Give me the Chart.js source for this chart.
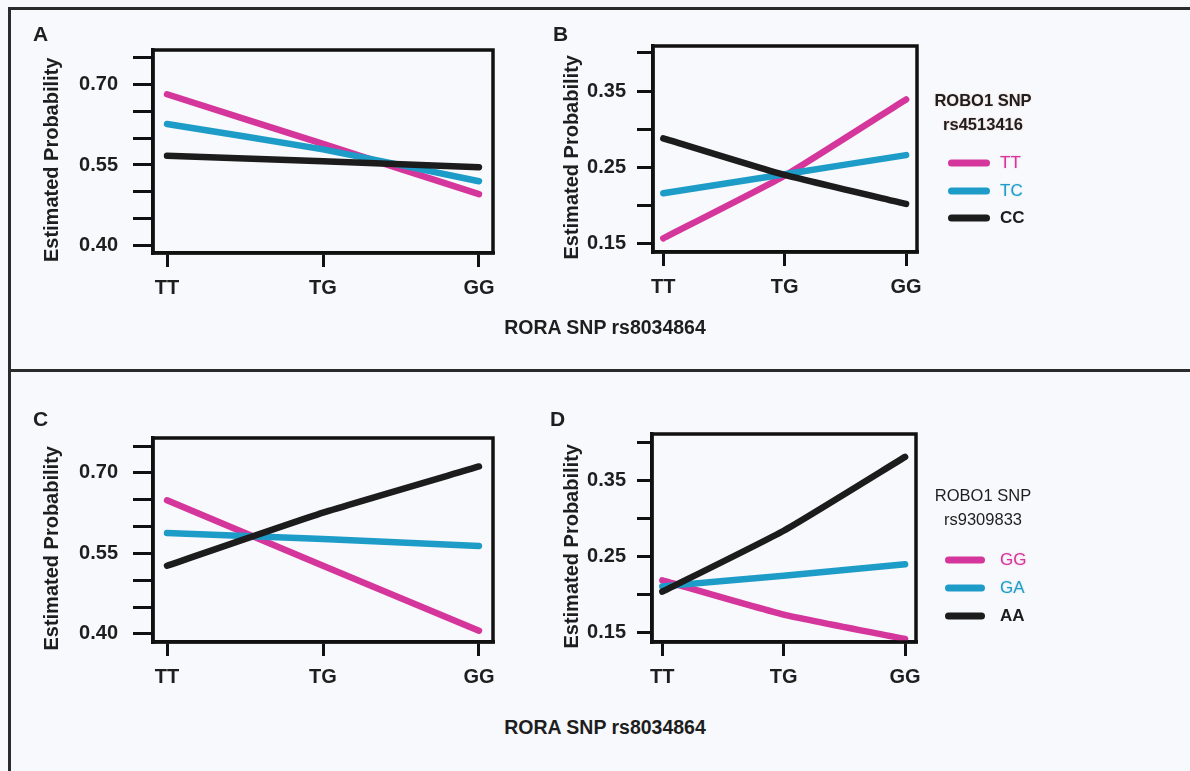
<!DOCTYPE html>
<html>
<head>
<meta charset="utf-8">
<script src="https://cdn.jsdelivr.net/npm/chart.js@4.4.1/dist/chart.umd.min.js"></script>
<style>
    body { margin: 0; background: #f8f9fc; font-family: "Liberation Sans", Arial, sans-serif; }
    #page { position: relative; width: 1190px; height: 771px; overflow: hidden; }
    canvas { position: absolute; }
    .rule { position: absolute; background: #2b2b2b; }
    .txt { position: absolute; color: #1e1e1e; white-space: nowrap; }
    .letter { font-size: 21px; font-weight: bold; transform: translateY(-50%); }
    .xtitle { font-size: 19.5px; font-weight: bold; transform: translate(-50%, -50%); }
    .legTitle { font-size: 16.5px; text-align: center; line-height: 24px; transform: translateX(-50%); }
    .legLine { position: absolute; height: 7px; border-radius: 4px; transform: translateY(-50%); }
    .legText { font-size: 17px; transform: translateY(-50%); }
</style>
</head>
<body>
<div id="page">
    <div class="rule" style="left:8px; top:7px; width:1182px; height:3px;"></div>
    <div class="rule" style="left:8px; top:7px; width:3px; height:764px;"></div>
    <div class="rule" style="left:8px; top:369px; width:1182px; height:3px;"></div>

    <canvas id="chartA"></canvas>
    <canvas id="chartB"></canvas>
    <canvas id="chartC"></canvas>
    <canvas id="chartD"></canvas>

    <div class="txt letter" style="left:33px; top:34px;">A</div>
    <div class="txt letter" style="left:553px; top:34px;">B</div>
    <div class="txt letter" style="left:33px; top:419px;">C</div>
    <div class="txt letter" style="left:550px; top:419px;">D</div>

    <div class="txt xtitle" style="left:605px; top:327px;">RORA SNP rs8034864</div>
    <div class="txt xtitle" style="left:605px; top:727px;">RORA SNP rs8034864</div>
</div>

<script>
// x categories (RORA SNP rs8034864 genotypes)
var roraLabels = ['TT', 'TG', 'GG'];

// panel A / B: ROBO1 SNP rs4513416
var robo1aNames = ['TT', 'TC', 'CC'];
var panelA_TT = [0.681, 0.589, 0.496];
var panelA_TC = [0.626, 0.579, 0.520];
var panelA_CC = [0.567, 0.557, 0.546];
var panelB_TT = [0.157, 0.239, 0.339];
var panelB_TC = [0.216, 0.241, 0.266];
var panelB_CC = [0.288, 0.240, 0.202];

// panel C / D: ROBO1 SNP rs9309833
var robo1bNames = ['GG', 'GA', 'AA'];
var panelC_GG = [0.649, 0.527, 0.406];
var panelC_GA = [0.588, 0.577, 0.564];
var panelC_AA = [0.527, 0.626, 0.712];
var panelD_GG = [0.219, 0.174, 0.142];
var panelD_GA = [0.211, 0.225, 0.240];
var panelD_AA = [0.204, 0.284, 0.381];

// y tick labels that are printed
var highTicks = [0.40, 0.55, 0.70];
var lowTicks = [0.15, 0.25, 0.35];

var seriesColors = ['#d4369c', '#1e9cc8', '#1c1c1c'];
var fontFamily = '"Liberation Sans", Arial, sans-serif';
// trailing spaces push the rotated title a little lower, as in the figure
var yTitle = 'Estimated Probability\u00a0\u00a0\u00a0';

// draws the closed box around the plot area
var boxPlugin = {
    id: 'box',
    afterDatasetsDraw: function(chart) {
        var a = chart.chartArea;
        var ctx = chart.ctx;
        ctx.save();
        ctx.strokeStyle = '#111';
        ctx.lineWidth = 3.5;
        ctx.strokeRect(a.left, a.top, a.right - a.left, a.bottom - a.top);
        ctx.restore();
    }
};

function toPoints(values) {
    return values.map(function(v, i) { return { x: i, y: v }; });
}

function makePanel(id, geo, series, yMin, yMax, shownTicks) {
    var canvas = document.getElementById(id);
    var left = geo.titleX - 18;
    var top = geo.top - 26;   // chart area starts 26px under the canvas top
    var width = geo.right + 20 - left;
    var height = geo.bottom + 60 - top;
    canvas.width = width;
    canvas.height = height;
    canvas.style.left = left + 'px';
    canvas.style.top = top + 'px';
    canvas.style.width = width + 'px';
    canvas.style.height = height + 'px';

    var datasets = series.map(function(values, i) {
        return {
            data: toPoints(values),
            borderColor: seriesColors[i],
            borderWidth: 6.5,
            borderCapStyle: 'round',
            borderJoinStyle: 'round',
            pointRadius: 0,
            tension: 0.15,
            fill: false
        };
    });
    // black drawn on top, as in the figure
    datasets.reverse();

    new Chart(canvas.getContext('2d'), {
        type: 'line',
        data: { datasets: datasets },
        options: {
            responsive: false,
            animation: false,
            devicePixelRatio: 1,
            layout: { padding: { top: 0, right: 20, left: 0, bottom: 0 } },
            plugins: { legend: { display: false }, tooltip: { enabled: false } },
            scales: {
                x: {
                    type: 'linear',
                    min: geo.xMin,
                    max: geo.xMax,
                    afterFit: function(scale) { scale.height = 60; },
                    grid: { drawOnChartArea: false, drawTicks: true, tickLength: 14, lineWidth: 3, color: '#111' },
                    border: { display: true, width: 3.5, color: '#111' },
                    ticks: {
                        stepSize: 1,
                        includeBounds: false,
                        autoSkip: false,
                        maxRotation: 0,
                        padding: 9,
                        color: '#1e1e1e',
                        font: { family: fontFamily, size: 20, weight: 'bold' },
                        callback: function(v) { return roraLabels[Math.round(v)] || ''; }
                    }
                },
                y: {
                    min: yMin,
                    max: yMax,
                    afterFit: function(scale) { scale.width = geo.left - left; },
                    grid: { drawOnChartArea: false, drawTicks: true, tickLength: geo.tickLen, lineWidth: 3, color: '#111' },
                    border: { display: true, width: 3.5, color: '#111' },
                    title: {
                        display: true,
                        text: yTitle,
                        color: '#1e1e1e',
                        padding: { top: 6, bottom: 0 },
                        font: { family: fontFamily, size: 20, weight: 'bold' }
                    },
                    ticks: {
                        stepSize: 0.05,
                        includeBounds: false,
                        autoSkip: false,
                        padding: geo.tickPad,
                        color: '#1e1e1e',
                        font: { family: fontFamily, size: 20, weight: 'bold' },
                        callback: function(v) {
                            var show = shownTicks.some(function(t) { return Math.abs(t - v) < 0.001; });
                            return show ? v.toFixed(2) : '';
                        }
                    }
                }
            }
        },
        plugins: [boxPlugin]
    });
}

function makeLegend(title, names, geo, boldTitle, glow) {
    var page = document.getElementById('page');
    var t = document.createElement('div');
    t.className = 'txt legTitle';
    t.style.left = geo.cx + 'px';
    t.style.top = geo.titleTop + 'px';
    t.style.fontWeight = boldTitle ? 'bold' : 'normal';
    if (glow) t.style.textShadow = '0 0 2px rgba(230, 120, 90, 0.35)';
    t.innerHTML = title.join('<br>');
    page.appendChild(t);

    names.forEach(function(name, i) {
        var y = geo.firstY + i * geo.gap;
        var line = document.createElement('div');
        line.className = 'legLine';
        line.style.left = geo.lineLeft + 'px';
        line.style.width = geo.lineWidth + 'px';
        line.style.top = y + 'px';
        line.style.background = seriesColors[i];
        page.appendChild(line);

        var label = document.createElement('div');
        label.className = 'txt legText';
        label.style.left = '1000px';
        label.style.top = y + 'px';
        label.style.color = seriesColors[i];
        label.style.fontWeight = i === 2 ? 'bold' : 'normal';
        if (i < 2) label.style.textShadow = '0 0 2px ' + seriesColors[i] + '55';
        label.textContent = name;
        page.appendChild(label);
    });
}

document.addEventListener("DOMContentLoaded", function() {
    makePanel('chartA', { left: 153, top: 49, right: 493, bottom: 253, titleX: 52, xMin: -0.09, xMax: 2.09, tickLen: 20, tickPad: 15 },
        [panelA_TT, panelA_TC, panelA_CC], 0.387, 0.763, highTicks);
    makePanel('chartB', { left: 653, top: 49, right: 917, bottom: 252, titleX: 572, xMin: -0.085, xMax: 2.09, tickLen: 16, tickPad: 11 },
        [panelB_TT, panelB_TC, panelB_CC], 0.139, 0.409, lowTicks);
    makePanel('chartC', { left: 153, top: 437, right: 493, bottom: 642, titleX: 52, xMin: -0.09, xMax: 2.09, tickLen: 20, tickPad: 15 },
        [panelC_GG, panelC_GA, panelC_AA], 0.385, 0.765, highTicks);
    makePanel('chartD', { left: 652, top: 437, right: 916, bottom: 642, titleX: 572, xMin: -0.085, xMax: 2.09, tickLen: 15, tickPad: 11 },
        [panelD_GG, panelD_GA, panelD_AA], 0.138, 0.411, lowTicks);

    makeLegend(['ROBO1 SNP', 'rs4513416'], robo1aNames,
        { cx: 983, titleTop: 88, firstY: 163, gap: 27.5, lineLeft: 948, lineWidth: 42 }, true, true);
    makeLegend(['ROBO1 SNP', 'rs9309833'], robo1bNames,
        { cx: 983, titleTop: 483, firstY: 560, gap: 28, lineLeft: 945, lineWidth: 40 }, false, false);
});
</script>
</body>
</html>
